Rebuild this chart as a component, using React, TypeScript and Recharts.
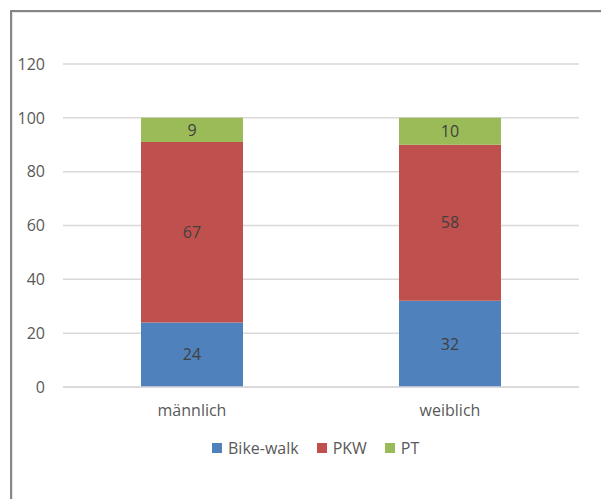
import React from "react";
import {
  BarChart,
  Bar,
  XAxis,
  YAxis,
  CartesianGrid,
  Legend,
  LabelList,
} from "recharts";

const categories = ["männlich", "weiblich"];
const bikeWalk = [24, 32];
const pkw = [67, 58];
const pt = [9, 10];
const yTicks = [0, 20, 40, 60, 80, 100, 120];

const SERIES = [
  { key: "bikeWalk", name: "Bike-walk", color: "#4F81BD" },
  { key: "pkw", name: "PKW", color: "#C0504D" },
  { key: "pt", name: "PT", color: "#9BBB59" },
];

const FONT = "'Open Sans', 'Noto Sans', sans-serif";
const TEXT = "#595959";

const data = categories.map((name, i) => ({
  name,
  bikeWalk: bikeWalk[i],
  pkw: pkw[i],
  pt: pt[i],
}));

function LegendContent() {
  return (
    <div
      style={{
        display: "flex",
        justifyContent: "flex-start",
        alignItems: "center",
        height: 20,
        fontFamily: FONT,
        fontSize: 16,
        color: TEXT,
        paddingLeft: 212,
      }}
    >
      {SERIES.map((s) => (
        <div key={s.key} style={{ display: "flex", alignItems: "center", marginRight: 18 }}>
          <span style={{ width: 10, height: 10, background: s.color, marginRight: 6 }} />
          <span>{s.name}</span>
        </div>
      ))}
    </div>
  );
}

export default function App() {
  return (
    <div
      style={{
        position: "absolute",
        left: 0,
        top: 0,
        width: 601,
        height: 499,
        background: "#fff",
        overflow: "hidden",
      }}
    >
      <div
        style={{
          position: "absolute",
          left: 10,
          top: 10,
          width: 600,
          height: 500,
          borderTop: "2px solid #868686",
          borderLeft: "2px solid #868686",
          boxShadow: "inset 1px 1px 0 #e6e6e6",
        }}
      />
      <BarChart
        width={601}
        height={499}
        data={data}
        margin={{ top: 64, right: 22, left: 0, bottom: 41 }}
        barSize={102}
      >
        <CartesianGrid vertical={false} stroke="#d9d9d9" strokeWidth={1.5} />
        <XAxis
          dataKey="name"
          axisLine={{ stroke: "#d9d9d9", strokeWidth: 1.5 }}
          tickLine={false}
          tickSize={0}
          tickMargin={18}
          height={51}
          tick={{ fill: TEXT, fontSize: 16, fontFamily: FONT }}
        />
        <YAxis
          domain={[0, 120]}
          ticks={yTicks}
          axisLine={false}
          tickLine={false}
          tickSize={0}
          tickMargin={18}
          width={63}
          tick={{ fill: TEXT, fontSize: 16, fontFamily: FONT }}
        />
        <Legend verticalAlign="bottom" content={<LegendContent />} />
        {SERIES.map((s) => (
          <Bar
            key={s.key}
            dataKey={s.key}
            name={s.name}
            stackId="a"
            fill={s.color}
            isAnimationActive={false}
          >
            <LabelList
              dataKey={s.key}
              position="center"
              fill="#404040"
              fontSize={16}
              fontFamily={FONT}
            />
          </Bar>
        ))}
      </BarChart>
    </div>
  );
}
